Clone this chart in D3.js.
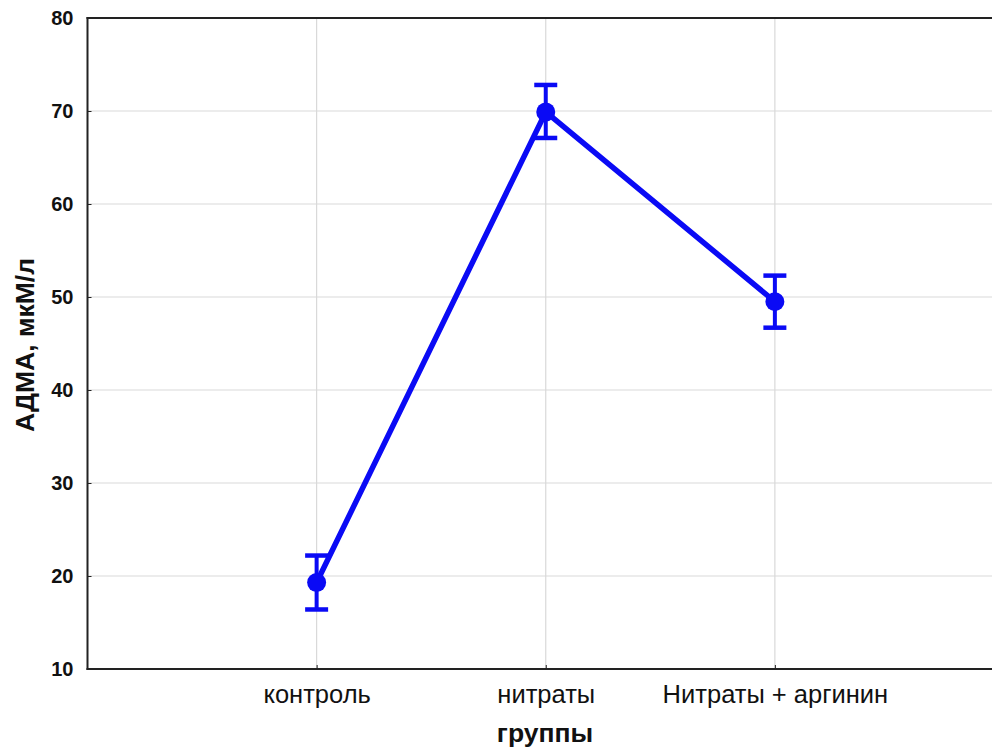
<!DOCTYPE html>
<html>
<head>
<meta charset="utf-8">
<script src="https://cdn.jsdelivr.net/npm/d3@7"></script>
<style>
  body { margin: 0; background: #fff; }
  svg { display: block; font-family: "Liberation Sans", Arial, sans-serif; }
</style>
</head>
<body>
<svg id="chart" width="992" height="753"></svg>
<script>
// Groups and ADMA means with error-bar bounds
const groups = ["контроль", "нитраты", "Нитраты + аргинин"];
const means = [19.3, 69.9, 49.5];
const upper = [22.2, 72.8, 52.3];
const lower = [16.4, 67.1, 46.7];
const yTicks = [10, 20, 30, 40, 50, 60, 70, 80];

const svg = d3.select("#chart");
const plotLeft = 87.5, plotTop = 18, plotBottom = 669, plotRight = 1004;

const x = d3.scalePoint().domain(["", ...groups, " "]).range([plotLeft, plotRight]);
const y = d3.scaleLinear().domain([10, 80]).range([plotBottom, plotTop]);

const g = svg.append("g");

// grid
g.selectAll(".hgrid").data(yTicks.slice(1, -1)).join("line")
  .attr("x1", plotLeft).attr("x2", 992)
  .attr("y1", d => y(d)).attr("y2", d => y(d))
  .attr("stroke", "#d9d9d9").attr("stroke-width", 1.2);
g.selectAll(".vgrid").data(groups).join("line")
  .attr("x1", d => x(d)).attr("x2", d => x(d))
  .attr("y1", plotTop).attr("y2", plotBottom)
  .attr("stroke", "#d9d9d9").attr("stroke-width", 1.2);

// frame
g.append("line").attr("x1", plotLeft).attr("x2", plotLeft).attr("y1", plotTop - 1).attr("y2", plotBottom + 1)
  .attr("stroke", "#222").attr("stroke-width", 2);
g.append("line").attr("x1", plotLeft - 1).attr("x2", 992).attr("y1", plotBottom).attr("y2", plotBottom)
  .attr("stroke", "#222").attr("stroke-width", 2);
g.append("line").attr("x1", plotLeft - 1).attr("x2", 992).attr("y1", plotTop).attr("y2", plotTop)
  .attr("stroke", "#222").attr("stroke-width", 2);

// y axis
const yAxis = d3.axisLeft(y).tickValues(yTicks).tickSize(-4).tickPadding(14);
const ya = svg.append("g").attr("transform", `translate(${plotLeft},0)`).call(yAxis);
ya.select(".domain").remove();
ya.selectAll(".tick line").attr("stroke", "#222");
ya.selectAll("text").attr("font-size", 20).attr("font-weight", "bold").attr("fill", "#111")
  .attr("font-family", "Liberation Sans, Arial, sans-serif");

// x axis
const xAxis = d3.axisBottom(x).tickValues(groups).tickSize(-4);
const xa = svg.append("g").attr("transform", `translate(0,${plotBottom})`).call(xAxis);
xa.select(".domain").remove();
xa.selectAll(".tick line").attr("stroke", "#222");
xa.selectAll("text").attr("y", 34).attr("dy", null).attr("font-size", 25.5).attr("fill", "#111")
  .attr("font-family", "Liberation Sans, Arial, sans-serif");

// axis titles
svg.append("text").attr("x", 545).attr("y", 742).attr("text-anchor", "middle")
  .attr("font-size", 26.5).attr("font-weight", "bold").attr("fill", "#111").text("группы");
svg.append("text").attr("transform", `translate(34,345) rotate(-90)`)
  .attr("text-anchor", "middle").attr("font-size", 26.5).attr("font-weight", "bold")
  .attr("fill", "#111").text("АДМА, мкМ/л");

const blue = "#0a0af5";
const data = groups.map((d, i) => ({ g: d, m: means[i], hi: upper[i], lo: lower[i] }));

// error bars
const eb = svg.append("g");
eb.selectAll(".stem").data(data).join("line")
  .attr("x1", d => x(d.g)).attr("x2", d => x(d.g))
  .attr("y1", d => y(d.hi)).attr("y2", d => y(d.lo))
  .attr("stroke", blue).attr("stroke-width", 4);
eb.selectAll(".capT").data(data).join("line")
  .attr("x1", d => x(d.g) - 11.5).attr("x2", d => x(d.g) + 11.5)
  .attr("y1", d => y(d.hi)).attr("y2", d => y(d.hi))
  .attr("stroke", blue).attr("stroke-width", 4.5);
eb.selectAll(".capB").data(data).join("line")
  .attr("x1", d => x(d.g) - 11.5).attr("x2", d => x(d.g) + 11.5)
  .attr("y1", d => y(d.lo)).attr("y2", d => y(d.lo))
  .attr("stroke", blue).attr("stroke-width", 4.5);

// mean line
svg.append("path").datum(data)
  .attr("d", d3.line().x(d => x(d.g)).y(d => y(d.m)))
  .attr("fill", "none").attr("stroke", blue).attr("stroke-width", 5.5)
  .attr("stroke-linejoin", "round");

// markers
svg.selectAll(".pt").data(data).join("circle")
  .attr("cx", d => x(d.g)).attr("cy", d => y(d.m)).attr("r", 9.5)
  .attr("fill", blue);
</script>
</body>
</html>
